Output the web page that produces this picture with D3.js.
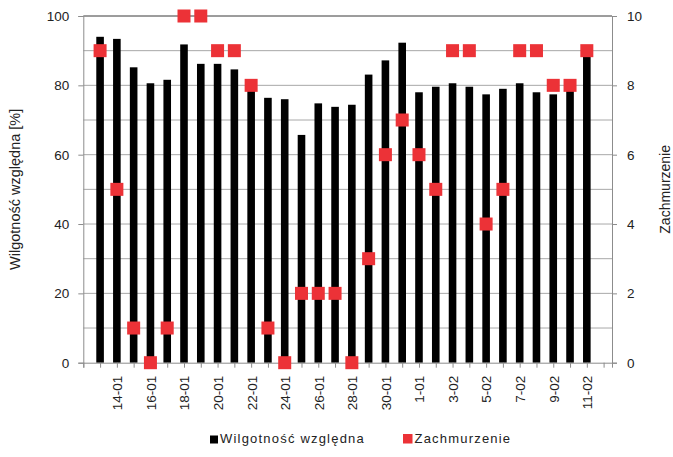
<!DOCTYPE html>
<html>
<head>
<meta charset="utf-8">
<script src="https://cdn.jsdelivr.net/npm/d3@7"></script>
<style>
  body { margin: 0; background: #fff; }
  text { font-family: "Liberation Sans", Arial, sans-serif; fill: #222; }
</style>
</head>
<body>
<svg id="chart" width="673" height="457"></svg>
<script>
// Daily observations, 13 January – 11 February
const days = ["13-01","14-01","15-01","16-01","17-01","18-01","19-01","20-01","21-01","22-01",
              "23-01","24-01","25-01","26-01","27-01","28-01","29-01","30-01","31-01","1-01",
              "2-02","3-02","4-02","5-02","6-02","7-02","8-02","9-02","10-02","11-02"];
// Relative humidity [%]
const humidity = [94.0, 93.4, 85.2, 80.6, 81.6, 91.8, 86.2, 86.2, 84.6, 79.5,
                  76.4, 76.0, 65.7, 74.8, 73.8, 74.4, 83.1, 87.2, 92.3, 78.0,
                  79.6, 80.6, 79.6, 77.4, 79.0, 80.6, 78.0, 77.4, 80.0, 90.0];
// Cloud cover [0–10]
const cloud = [9, 5, 1, 0, 1, 10, 10, 9, 9, 8,
               1, 0, 2, 2, 2, 0, 3, 6, 7, 6,
               5, 9, 9, 4, 5, 9, 9, 8, 8, 9];
const leftTicks = [0, 20, 40, 60, 80, 100];
const rightTicks = [0, 2, 4, 6, 8, 10];
const seriesNames = ["Wilgotność względna", "Zachmurzenie"];
const axisTitles = ["Wilgotność względna [%]", "Zachmurzenie"];

const svg = d3.select("#chart");
const plot = { left: 83.3, right: 612, top: 16, bottom: 362.7 };

// day axis: one unit per day, one spare day before the first bar
const x = d3.scaleLinear().domain([-1, 30.5]).range([plot.left, plot.right]);
const yL = d3.scaleLinear().domain([0, 100]).range([plot.bottom, plot.top]);
const yR = d3.scaleLinear().domain([0, 10]).range([plot.bottom, plot.top]);

const gridCol = "#a8a8a8";
const axisCol = "#8c8c8c";
const red = "#ec3237";

// horizontal gridlines every 10 %
svg.append("g").selectAll("line")
  .data(d3.range(10, 101, 10))
  .join("line")
  .attr("x1", plot.left).attr("x2", plot.right)
  .attr("y1", d => yL(d)).attr("y2", d => yL(d))
  .attr("stroke", d => d === 100 ? "#3a3a3a" : gridCol)
  .attr("stroke-width", 1);

// humidity bars
const barW = 7.6;
svg.append("g").selectAll("rect")
  .data(humidity)
  .join("rect")
  .attr("x", (d, i) => x(i) - barW / 2)
  .attr("width", barW)
  .attr("y", d => yL(d))
  .attr("height", d => yL(0) - yL(d))
  .attr("fill", "#000");

// left axis
const gL = svg.append("g").attr("transform", `translate(${plot.left},0)`)
  .call(d3.axisLeft(yL).tickValues(leftTicks).tickSize(5).tickPadding(9));
// right axis
const gR = svg.append("g").attr("transform", `translate(${plot.right},0)`)
  .call(d3.axisRight(yR).tickValues(rightTicks).tickSize(5).tickPadding(10));
// day axis
const gX = svg.append("g").attr("transform", `translate(0,${plot.bottom})`)
  .call(d3.axisBottom(x).tickValues(d3.range(-1, 31)).tickSize(5)
    .tickFormat(i => (i >= 0 && i < days.length && i % 2 === 1) ? days[i] : ""));
gX.selectAll(".tick text")
  .attr("transform", "rotate(-90)")
  .attr("text-anchor", "end")
  .attr("x", -13).attr("y", 0).attr("dy", "0.36em");

[gL, gR, gX].forEach(g => {
  g.select(".domain").attr("stroke", axisCol);
  g.selectAll(".tick line").attr("stroke", axisCol);
  g.selectAll(".tick text").style("font-size", "13.5px").attr("fill", "#222");
});

// cloud cover markers
const sq = 13;
svg.append("g").selectAll("rect")
  .data(cloud)
  .join("rect")
  .attr("x", (d, i) => x(i) - sq / 2)
  .attr("y", d => yR(d) - sq / 2)
  .attr("width", sq).attr("height", sq)
  .attr("fill", red);

// axis titles, both reading bottom to top
const midY = (plot.top + plot.bottom) / 2;
svg.append("text")
  .attr("transform", `translate(20,${midY}) rotate(-90)`)
  .attr("text-anchor", "middle")
  .style("font-size", "14.5px")
  .text(axisTitles[0]);
svg.append("text")
  .attr("transform", `translate(670,${midY}) rotate(-90)`)
  .attr("text-anchor", "middle")
  .style("font-size", "14px")
  .text(axisTitles[1]);

// legend
const legend = svg.append("g").attr("transform", "translate(0,443)");
const items = [
  { name: seriesNames[0], color: "#000", x: 210, size: 8 },
  { name: seriesNames[1], color: red, x: 403, size: 9.5 }
];
items.forEach(it => {
  legend.append("rect")
    .attr("x", it.x).attr("y", -it.size + 0.5)
    .attr("width", it.size).attr("height", it.size)
    .attr("fill", it.color);
  legend.append("text")
    .attr("x", it.x + it.size + 2).attr("y", 0)
    .style("font-size", "13px")
    .style("letter-spacing", "1.2px")
    .text(it.name);
});
</script>
</body>
</html>
